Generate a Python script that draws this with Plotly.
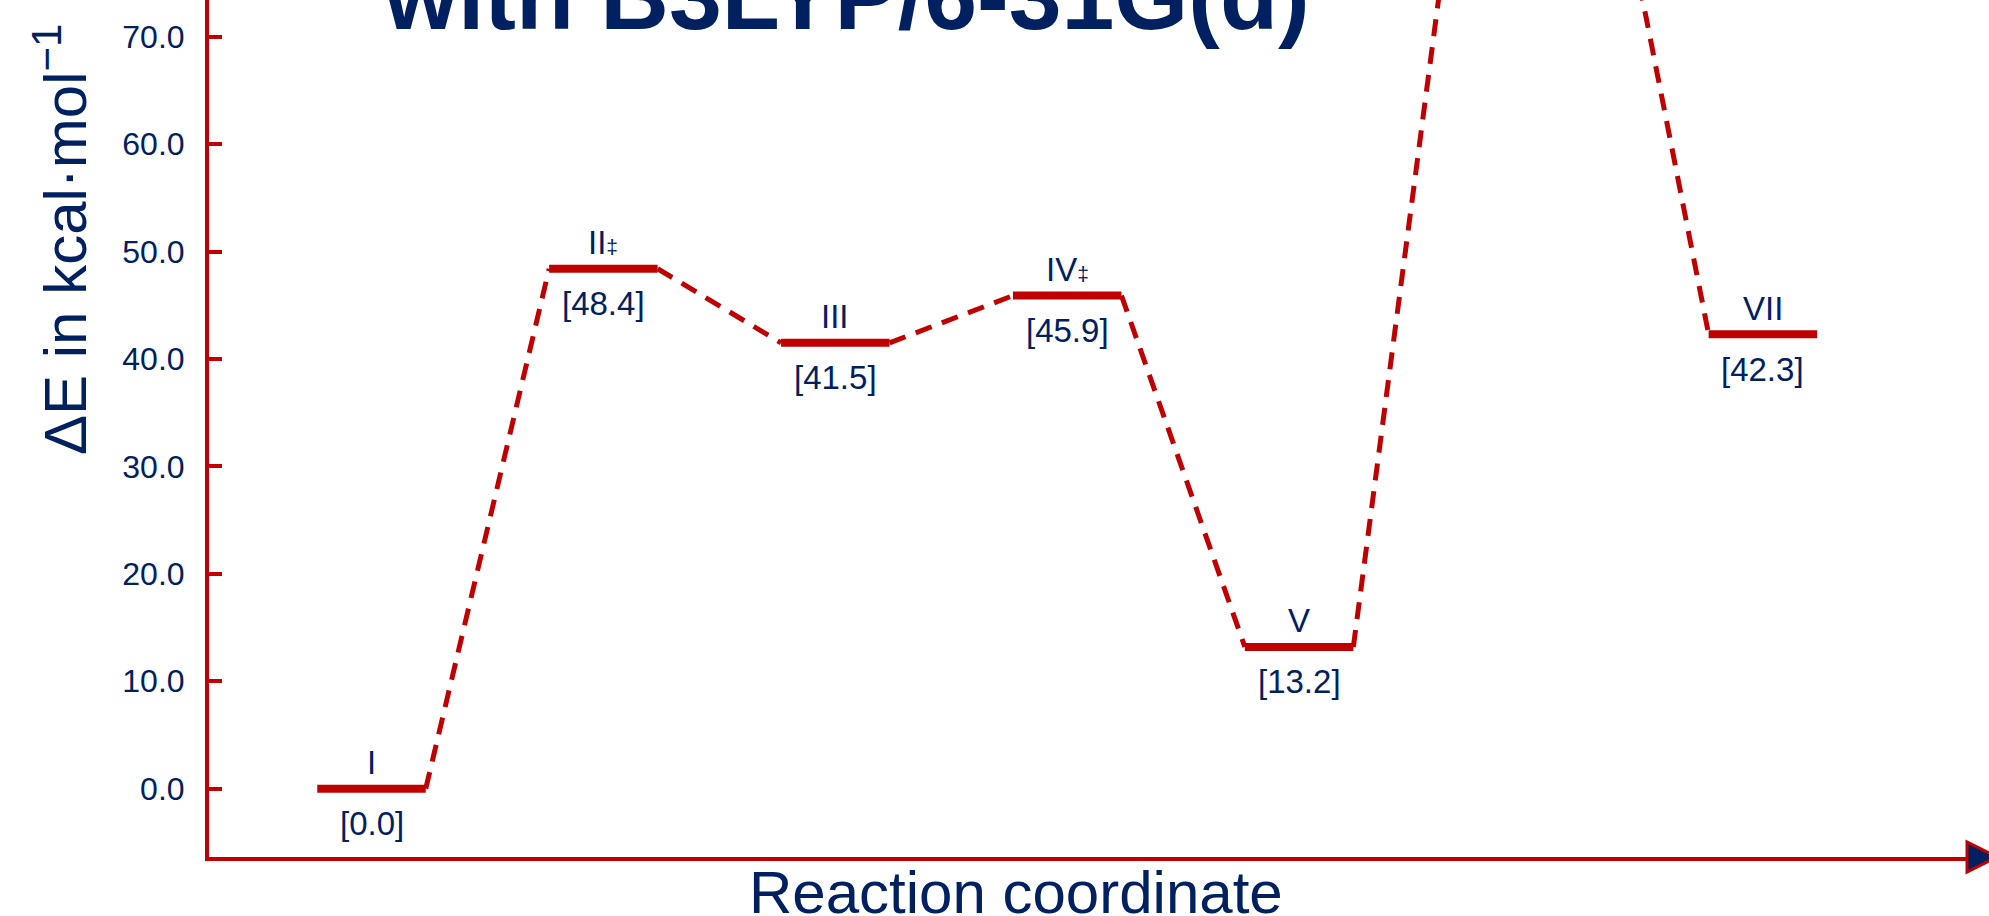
import plotly.graph_objects as go

# ---- data ----
levels = ["I", "II‡", "III", "IV‡", "V", "VI‡", "VII"]
energies = [0.0, 48.4, 41.5, 45.9, 13.2, 100.5, 42.3]
ytick_vals = [0, 10, 20, 30, 40, 50, 60, 70]
ytick_text = ["0.0", "10.0", "20.0", "30.0", "40.0", "50.0", "60.0", "70.0"]
title_text = "with B3LYP/6-31G(d)"
x_title = "Reaction coordinate"
y_title = "ΔE in kcal·mol<sup>−1</sup>"

RED = "#C00000"
NAVY = "#002060"
FONT = "Liberation Sans, Arial, sans-serif"
HALF = 0.234  # half width of an energy level bar (in x units)

W, H = 1989, 916
ML, MR, MT, MB = 209, 0, 0, 59

# level bars
bx, by = [], []
for i, e in enumerate(energies):
    bx += [i - HALF, i + HALF, None]
    by += [e, e, None]

# dashed connectors
cx, cy = [], []
for i in range(len(energies) - 1):
    cx += [i + HALF, i + 1 - HALF, None]
    cy += [energies[i], energies[i + 1], None]

fig = go.Figure()
fig.add_trace(go.Scatter(x=cx, y=cy, mode="lines",
                         line=dict(color=RED, width=5, dash="17px,11px"),
                         hoverinfo="skip", showlegend=False))
fig.add_trace(go.Scatter(x=bx, y=by, mode="lines",
                         line=dict(color=RED, width=8),
                         hoverinfo="skip", showlegend=False))

annotations = []
for i, (name, e) in enumerate(zip(levels, energies)):
    if e > 73:
        continue  # off the top of the visible axis range
    label = name.replace("‡", "<span style='font-size:21px'>‡</span>")
    annotations.append(dict(x=i, y=e, xref="x", yref="y", text=label,
                            showarrow=False, yanchor="middle", yshift=26,
                            font=dict(family=FONT, size=33, color=NAVY)))
    annotations.append(dict(x=i, y=e, xref="x", yref="y", text=f"[{e:.1f}]",
                            showarrow=False, yanchor="middle", yshift=-35,
                            font=dict(family=FONT, size=33, color=NAVY)))

plot_w = W - ML - MR
plot_h = H - MT - MB

# title (partly cut at top)
annotations.append(dict(x=(381 - ML) / plot_w, y=1, xref="paper", yref="paper",
                        text=f"<b>{title_text}</b>", showarrow=False,
                        xanchor="left", yanchor="bottom", yshift=-51,
                        font=dict(family=FONT, size=95, color=NAVY)))
# x axis title
annotations.append(dict(x=(1015.5 - ML) / plot_w, y=0, xref="paper", yref="paper",
                        text=x_title, showarrow=False,
                        xanchor="center", yanchor="middle", yshift=-35,
                        font=dict(family=FONT, size=60, color=NAVY)))
# y axis title
annotations.append(dict(x=0, y=1 - 240 / plot_h, xref="paper", yref="paper",
                        text=y_title, showarrow=False, textangle=-90,
                        xanchor="center", yanchor="middle", xshift=61 - ML,
                        font=dict(family=FONT, size=60, color=NAVY)))

px_per_unit = 10.743
y_top = 788.7 / px_per_unit
y_bot = -(857 - 788.7) / px_per_unit
x_unit = 231.9
x_left = -(371.5 - ML) / x_unit
x_right = (W - MR - 371.5) / x_unit

fig.update_layout(
    width=W, height=H,
    margin=dict(l=ML, r=MR, t=MT, b=MB, pad=0),
    paper_bgcolor="white", plot_bgcolor="white",
    showlegend=False,
    annotations=annotations,
    xaxis=dict(range=[x_left, x_right], showline=True, linecolor=RED, linewidth=4,
               showticklabels=False, ticks="", showgrid=False, zeroline=False,
               fixedrange=True),
    yaxis=dict(range=[y_bot, y_top], showline=True, linecolor=RED, linewidth=4,
               tickvals=ytick_vals, ticktext=ytick_text, ticks="inside",
               ticklen=13, tickwidth=4, tickcolor=RED, ticklabelstandoff=14,
               tickfont=dict(family=FONT, size=32, color=NAVY),
               showgrid=False, zeroline=False, fixedrange=True),
    shapes=[dict(type="path", xref="paper", yref="paper",
                 xsizemode="pixel", ysizemode="pixel", xanchor=1, yanchor=0,
                 path="M -22,-15 L -22,15 L 8,0 Z",
                 fillcolor=NAVY, line=dict(color=RED, width=3), layer="above")],
)

fig.write_html("out.html", config={"displayModeBar": False},
               post_script="document.body.style.margin='0';document.body.style.overflow='hidden';")
